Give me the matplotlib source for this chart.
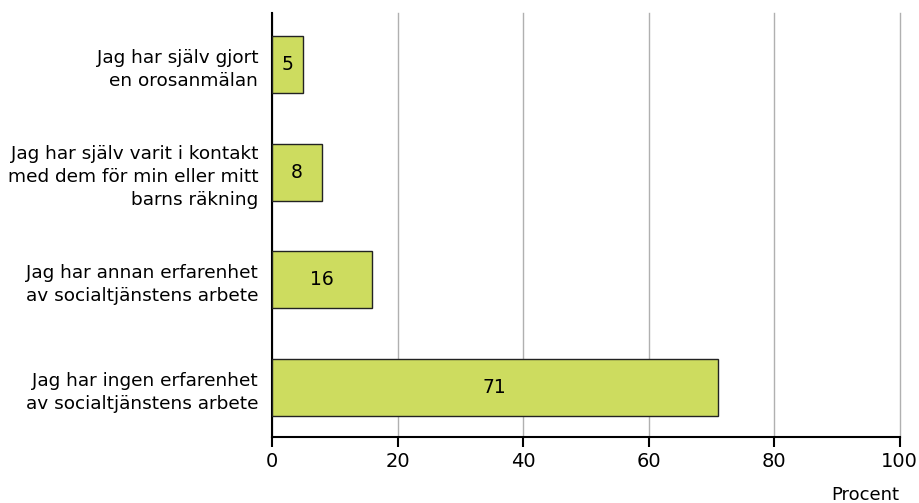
import matplotlib
matplotlib.use('Agg')
import matplotlib.pyplot as plt

# --- Datos ---
kategorier = [
    'Jag har själv gjort\nen orosanmälan',
    'Jag har själv varit i kontakt\nmed dem för min eller mitt\nbarns räkning',
    'Jag har annan erfarenhet\nav socialtjänstens arbete',
    'Jag har ingen erfarenhet\nav socialtjänstens arbete',
]
procent = [5, 8, 16, 71]
xticks = [0, 20, 40, 60, 80, 100]

plt.rcParams['font.family'] = ['DejaVu Sans']

fig = plt.figure(figsize=(9.19, 5.03), dpi=100)
ax = fig.add_axes([0.296, 0.131, 0.683, 0.843])

pos = list(range(len(kategorier)))
bars = ax.barh(pos, procent, height=0.53, color='#cddc5f',
               edgecolor='#222222', linewidth=1.0, zorder=3)

# Värden inne i staplarna
for b, v in zip(bars, procent):
    ax.text(b.get_x() + b.get_width() / 2, b.get_y() + b.get_height() / 2,
            f'{v}', ha='center', va='center', fontsize=13.5, zorder=4)

ax.set_yticks(pos)
ax.set_yticklabels(kategorier, fontsize=13.3, linespacing=1.38)
ax.tick_params(axis='y', length=0, pad=10)
ax.set_ylim(3.46, -0.48)

ax.set_xlim(0, 100)
ax.set_xticks(xticks)
ax.set_xticklabels([str(t) for t in xticks], fontsize=14)
ax.tick_params(axis='x', length=7, width=1.5, color='black', pad=4)
ax.xaxis.grid(True, color='#b0b0b0', linewidth=1.0, zorder=0)
for gl in ax.get_xgridlines():
    gl.set_clip_on(False)

for s in ['top', 'right']:
    ax.spines[s].set_visible(False)
ax.spines['left'].set_linewidth(1.5)
ax.spines['bottom'].set_linewidth(1.5)

ax.text(1.0, -0.115, 'Procent', transform=ax.transAxes, ha='right',
        va='top', fontsize=13)

fig.savefig('out.png', dpi=100)
